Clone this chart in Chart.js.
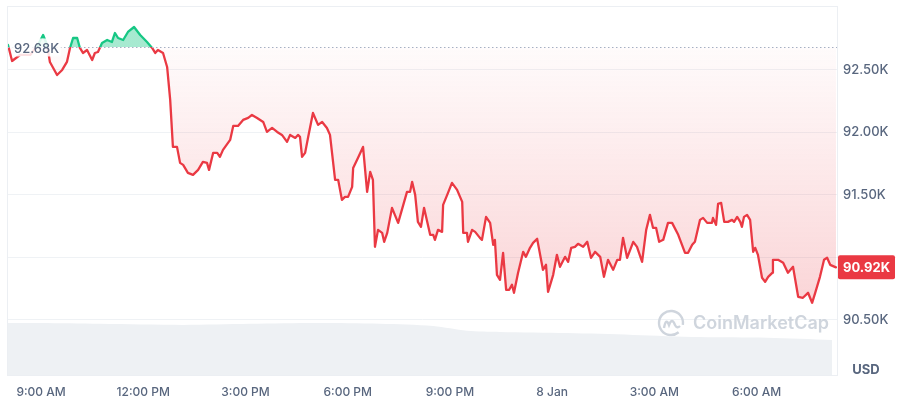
<!DOCTYPE html>
<html>
<head>
<meta charset="utf-8">
<script src="https://cdn.jsdelivr.net/npm/chart.js@4.4.1/dist/chart.umd.min.js"></script>
<style>
  html, body { margin: 0; padding: 0; background: #fff; }
  #wrap { width: 900px; height: 400px; }
</style>
</head>
<body>
<div id="wrap"><canvas id="grafico" width="900" height="400"></canvas></div>
<script>
// hours counted from 00:00 on 7 Jan (24+ = 8 Jan)
const times = [
  8.03, 8.15, 8.38, 8.68, 8.91, 9.06, 9.18, 9.26, 9.47, 9.62,
  9.76, 9.85, 9.94, 10.06, 10.14, 10.23, 10.35, 10.50, 10.58, 10.67,
  10.79, 10.94, 11.08, 11.17, 11.26, 11.41, 11.55, 11.73, 11.91, 12.11,
  12.26, 12.35, 12.43, 12.58, 12.70, 12.79, 12.87, 12.99, 13.08, 13.17,
  13.31, 13.46, 13.61, 13.75, 13.87, 13.93, 14.05, 14.17, 14.25, 14.34,
  14.55, 14.64, 14.78, 14.93, 15.08, 15.19, 15.34, 15.52, 15.63, 15.78,
  15.93, 16.07, 16.22, 16.31, 16.46, 16.54, 16.60, 16.66, 16.75, 16.84,
  16.98, 17.13, 17.25, 17.39, 17.48, 17.63, 17.72, 17.83, 17.92, 18.01,
  18.13, 18.16, 18.30, 18.45, 18.57, 18.66, 18.74, 18.80, 18.89, 19.01,
  19.07, 19.16, 19.30, 19.48, 19.74, 19.83, 19.89, 19.98, 20.06, 20.15,
  20.24, 20.42, 20.51, 20.56, 20.65, 20.77, 20.80, 20.92, 21.06, 21.21,
  21.36, 21.39, 21.50, 21.53, 21.65, 21.74, 21.88, 21.94, 22.06, 22.18,
  22.27, 22.32, 22.38, 22.47, 22.56, 22.65, 22.74, 22.82, 22.88, 23.00,
  23.15, 23.23, 23.35, 23.44, 23.56, 23.73, 23.82, 23.88, 24.03, 24.14,
  24.23, 24.38, 24.47, 24.56, 24.67, 24.76, 24.91, 25.03, 25.14, 25.26,
  25.41, 25.52, 25.64, 25.79, 25.91, 25.99, 26.08, 26.20, 26.38, 26.49,
  26.64, 26.76, 26.87, 26.96, 27.05, 27.14, 27.26, 27.40, 27.52, 27.70,
  27.90, 27.99, 28.11, 28.19, 28.34, 28.43, 28.55, 28.69, 28.72, 28.81,
  28.87, 28.96, 29.05, 29.16, 29.28, 29.34, 29.43, 29.52, 29.57, 29.63,
  29.72, 29.81, 29.90, 29.96, 30.04, 30.16, 30.25, 30.34, 30.46, 30.48,
  30.63, 30.78, 30.92, 31.07, 31.22, 31.36, 31.51, 31.63, 31.72, 31.86,
  31.98, 32.07, 32.16, 32.33
];
// BTC price in USD
const prices = [
  92700, 92572, 92620, 92620, 92700, 92780, 92700, 92564, 92460, 92500,
  92564, 92676, 92756, 92756, 92676, 92636, 92660, 92580, 92636, 92644,
  92716, 92740, 92724, 92796, 92756, 92740, 92804, 92844, 92780, 92724,
  92676, 92636, 92660, 92636, 92524, 92260, 91884, 91884, 91756, 91740,
  91676, 91660, 91700, 91764, 91756, 91700, 91836, 91836, 91804, 91860,
  91940, 92052, 92052, 92100, 92116, 92140, 92116, 92084, 92004, 92036,
  92004, 91980, 91924, 91980, 91956, 91980, 91964, 91804, 91836, 91964,
  92156, 92060, 92084, 92036, 91980, 91620, 91620, 91460, 91484, 91484,
  91564, 91716, 91796, 91884, 91524, 91684, 91620, 91084, 91220, 91196,
  91124, 91196, 91396, 91276, 91524, 91524, 91604, 91500, 91284, 91244,
  91396, 91180, 91180, 91140, 91220, 91204, 91420, 91500, 91596, 91540,
  91444, 91196, 91196, 91124, 91220, 91204, 91156, 91140, 91324, 91276,
  91100, 91140, 90860, 90820, 91036, 90740, 90740, 90780, 90716, 90876,
  91044, 91004, 91076, 91116, 91148, 90900, 90940, 90724, 90860, 91020,
  90924, 91004, 90964, 91076, 91084, 91108, 91084, 91124, 90996, 91044,
  91004, 90844, 90980, 90900, 90980, 90980, 91156, 90996, 91124, 91084,
  90964, 91220, 91340, 91236, 91236, 91124, 91140, 91276, 91276, 91180,
  91036, 91036, 91100, 91124, 91300, 91316, 91276, 91276, 91316, 91260,
  91428, 91436, 91284, 91284, 91300, 91284, 91324, 91284, 91244, 91324,
  91340, 91300, 91044, 91076, 91020, 90836, 90804, 90844, 90876, 90980,
  90980, 90956, 90876, 90924, 90684, 90676, 90716, 90636, 90716, 90844,
  90980, 90996, 90940, 90920
];
// volume (relative height, no scale shown on the picture)
const volTimes = [8.03, 8.97, 10.73, 13.17, 15.13, 17.10, 18.95, 20.51, 21.50, 22.47, 24.44, 26.38, 28.34, 30.31, 32.22];
const volumes = [14.1, 14.1, 13.9, 13.6, 13.9, 14.1, 13.9, 13.3, 12.0, 11.7, 11.4, 10.9, 10.3, 10.1, 9.5];

const xTicks = [9, 12, 15, 18, 21, 24, 27, 30];
const xTickLabels = ['9:00 AM', '12:00 PM', '3:00 PM', '6:00 PM', '9:00 PM', '8 Jan', '3:00 AM', '6:00 AM'];
const yTicks = [90500, 91000, 91500, 92000, 92500];
const openPrice = 92680; // linha pontilhada de referencia

const GREEN = '#16c784';
const RED = '#ea3943';
const TXT = '#58667e';
const FONT = 'Inter, "Noto Sans", sans-serif';

const fmtK = v => (v / 1000).toFixed(2) + 'K';
const lastPrice = prices[prices.length - 1];

// gradiente verde acima / vermelho abaixo da linha de abertura--------------------
function splitGradient(chart, fillMode) {
  const { ctx, chartArea, scales } = chart;
  if (!chartArea) return fillMode ? 'rgba(234,57,67,0.1)' : RED;
  const yb = scales.y.getPixelForValue(openPrice);
  let f = (yb - chartArea.top) / (chartArea.bottom - chartArea.top);
  f = Math.min(Math.max(f, 0), 1);
  const g = ctx.createLinearGradient(0, chartArea.top, 0, chartArea.bottom);
  if (fillMode) {
    g.addColorStop(0, 'rgba(22,199,132,0.38)');
    g.addColorStop(f, 'rgba(22,199,132,0.38)');
    g.addColorStop(f, 'rgba(234,57,67,0.02)');
    g.addColorStop(Math.min(f + 0.72, 1), 'rgba(234,57,67,0.22)');
    g.addColorStop(1, 'rgba(234,57,67,0.22)');
  } else {
    g.addColorStop(0, GREEN);
    g.addColorStop(f, GREEN);
    g.addColorStop(f, RED);
    g.addColorStop(1, RED);
  }
  return g;
}

// extras desenhados no canvas (moldura, linha pontilhada, selo do preco, marca)---
const extras = {
  id: 'extras',
  beforeDatasetsDraw(chart) {
    const { ctx, chartArea: a } = chart;
    ctx.save();
    ctx.strokeStyle = '#eceff3';
    ctx.lineWidth = 1;
    ctx.strokeRect(a.left - 0.5, a.top - 0.5, a.right - a.left + 1, a.bottom - a.top + 1);

    // watermark
    const wx = a.right - 166, wy = a.bottom - 52;
    ctx.strokeStyle = '#cfd5dd';
    ctx.lineWidth = 2.4;
    ctx.beginPath();
    ctx.arc(wx, wy, 12, 0.28 * Math.PI, 2.05 * Math.PI);
    ctx.stroke();
    ctx.beginPath();
    ctx.moveTo(wx - 7, wy + 5);
    ctx.quadraticCurveTo(wx - 5, wy - 6, wx - 2, wy + 2);
    ctx.quadraticCurveTo(wx + 1, wy - 6, wx + 4, wy + 2);
    ctx.quadraticCurveTo(wx + 6, wy + 6, wx + 9, wy + 3);
    ctx.stroke();
    ctx.fillStyle = '#cfd5dd';
    ctx.font = '600 18px ' + FONT;
    ctx.textAlign = 'left';
    ctx.textBaseline = 'middle';
    ctx.fillText('CoinMarketCap', wx + 22, wy + 1);
    ctx.restore();
  },
  afterDatasetsDraw(chart) {
    const { ctx, chartArea: a, scales } = chart;
    const yb = scales.y.getPixelForValue(openPrice);
    ctx.save();
    ctx.strokeStyle = '#a6b0c3';
    ctx.lineWidth = 1;
    ctx.setLineDash([1.5, 2.5]);
    ctx.beginPath();
    ctx.moveTo(a.left, Math.round(yb) + 0.5);
    ctx.lineTo(a.right, Math.round(yb) + 0.5);
    ctx.stroke();
    ctx.setLineDash([]);

    // rotulo do preco de abertura
    ctx.font = '500 13px ' + FONT;
    const txt = fmtK(openPrice);
    const w = ctx.measureText(txt).width;
    ctx.fillStyle = 'rgba(255,255,255,0.85)';
    ctx.fillRect(a.left + 4, yb - 9, w + 4, 18);
    ctx.fillStyle = TXT;
    ctx.textAlign = 'left';
    ctx.textBaseline = 'middle';
    ctx.fillText(txt, a.left + 6, yb + 1.5);

    // selo do ultimo preco
    const yl = scales.y.getPixelForValue(lastPrice);
    ctx.fillStyle = RED;
    ctx.beginPath();
    ctx.roundRect(a.right + 1, yl - 12, 57, 24, 2);
    ctx.fill();
    ctx.fillStyle = '#fff';
    ctx.font = '700 13px ' + FONT;
    ctx.textAlign = 'center';
    ctx.fillText(fmtK(lastPrice), a.right + 29.5, yl + 0.5);

    // USD
    ctx.fillStyle = TXT;
    ctx.font = '700 13px ' + FONT;
    ctx.fillText('USD', a.right + 29, a.bottom - 5);
    ctx.restore();
  }
};

const ctx = document.getElementById('grafico').getContext('2d');
const grafico = new Chart(ctx, {
  type: 'line',
  data: {
    datasets: [
      {
        label: 'Price',
        data: times.map((t, i) => ({ x: t, y: prices[i] })),
        yAxisID: 'y',
        borderWidth: 2.3,
        borderJoinStyle: 'round',
        borderCapStyle: 'round',
        pointRadius: 0,
        tension: 0,
        borderColor: c => splitGradient(c.chart, false),
        backgroundColor: c => splitGradient(c.chart, true),
        fill: { value: openPrice },
        order: 0
      },
      {
        label: 'Volume',
        data: volTimes.map((t, i) => ({ x: t, y: volumes[i] })),
        yAxisID: 'yVol',
        borderWidth: 0,
        pointRadius: 0,
        tension: 0.3,
        backgroundColor: '#eef1f4',
        fill: 'origin',
        order: 1
      }
    ]
  },
  options: {
    responsive: false,
    animation: false,
    layout: { padding: { left: 8, top: 7, right: 0, bottom: 0 } },
    plugins: { legend: { display: false }, tooltip: { enabled: false } },
    scales: {
      x: {
        type: 'linear',
        min: 8.03,
        max: 32.36,
        grid: { display: false, drawTicks: false },
        border: { display: false },
        afterBuildTicks: s => { s.ticks = xTicks.map(v => ({ value: v })); },
        afterFit: s => { s.height = 25; s.paddingLeft = 0; s.paddingRight = 0; },
        ticks: {
          autoSkip: false,
          maxRotation: 0,
          padding: 10,
          color: TXT,
          font: { family: FONT, size: 12, weight: 500 },
          callback: v => xTickLabels[xTicks.indexOf(v)]
        }
      },
      y: {
        type: 'linear',
        position: 'right',
        min: 90058,
        max: 93004,
        grid: { color: '#eff2f5', drawTicks: false },
        border: { display: false },
        afterBuildTicks: s => { s.ticks = yTicks.map(v => ({ value: v })); },
        afterFit: s => { s.width = 63; s.paddingTop = 0; s.paddingBottom = 0; },
        ticks: {
          padding: 6,
          color: TXT,
          font: { family: FONT, size: 13, weight: 500 },
          // o selo do ultimo preco cobre o rotulo mais proximo
          callback: v => (Math.abs(v - lastPrice) < 150 ? '' : fmtK(v))
        }
      },
      yVol: {
        type: 'linear',
        display: false,
        min: 0,
        max: 100
      }
    }
  },
  plugins: [extras]
});
</script>
</body>
</html>
